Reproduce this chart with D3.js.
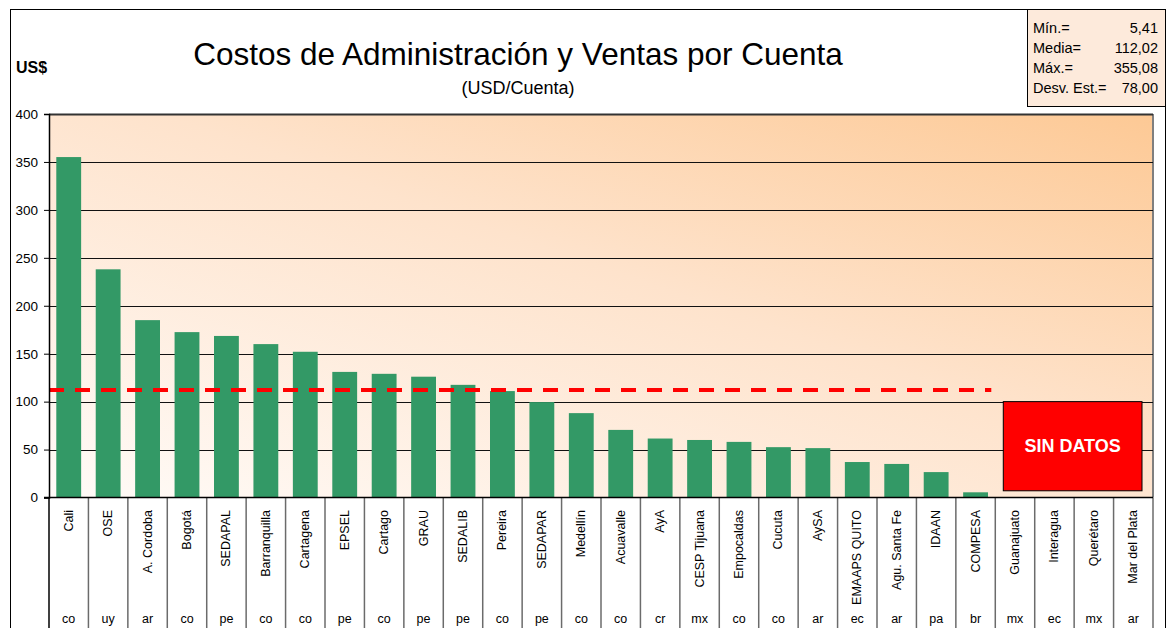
<!DOCTYPE html>
<html>
<head>
<meta charset="utf-8">
<script src="https://cdn.jsdelivr.net/npm/d3@7"></script>
<style>
  body { margin: 0; background: #fff; }
  text { font-family: "Liberation Sans", Arial, sans-serif; }
</style>
</head>
<body>
<script>
var companies = ["Cali","OSE","A. Cordoba","Bogotá","SEDAPAL","Barranquilla","Cartagena","EPSEL","Cartago","GRAU",
                 "SEDALIB","Pereira","SEDAPAR","Medellín","Acuavalle","AyA","CESP Tijuana","Empocaldas","Cucuta","AySA",
                 "EMAAPS QUITO","Agu.  Santa Fe","IDAAN","COMPESA","Guanajuato","Interagua","Querétaro","Mar del Plata"];
var countries = ["co","uy","ar","co","pe","co","co","pe","co","pe",
                 "pe","co","pe","co","co","cr","mx","co","co","ar",
                 "ec","ar","pa","br","mx","ec","mx","ar"];
var costs = [355.08,238,185,172.5,168.5,160,152,131,129,126,
             117.5,111,99.5,88,70.5,61.5,60,58,52.5,51.5,
             37,35,26.5,5.41,null,null,null,null];
var yTicks = [0,50,100,150,200,250,300,350,400];
var mean = 112.02;
var statLabels = ["Mín.=","Media=","Máx.=","Desv. Est.="];
var statValues = ["5,41","112,02","355,08","78,00"];
var noDataFrom = "Guanajuato", noDataTo = "Mar del Plata", noDataTop = 100, noDataBottom = 7;

var W = 1170, H = 628;
var plot = {left: 49, right: 1153, top: 114, bottom: 497.5};

var svg = d3.select("body").append("svg")
            .attr("width", W).attr("height", H);

// outer frame
svg.append("rect")
   .attr("x", 10.5).attr("y", 9.5)
   .attr("width", 1155).attr("height", 640)
   .attr("fill", "#fff").attr("stroke", "#000");

var grad = svg.append("defs").append("linearGradient")
              .attr("id", "bg").attr("x1", 0).attr("y1", 1).attr("x2", 1).attr("y2", 0);
grad.append("stop").attr("offset", "0%").attr("stop-color", "#fffbf8");
grad.append("stop").attr("offset", "55%").attr("stop-color", "#fee3cc");
grad.append("stop").attr("offset", "100%").attr("stop-color", "#fdc995");

var x = d3.scaleBand()
          .domain(companies)
          .range([plot.left, plot.right])
          .paddingInner(0.37).paddingOuter(0.185);
var xCell = d3.scaleBand().domain(companies).range([plot.left, plot.right]);

var y = d3.scaleLinear().domain([0, 400]).range([plot.bottom, plot.top]);

svg.append("rect")
   .attr("x", plot.left).attr("y", plot.top)
   .attr("width", plot.right - plot.left).attr("height", plot.bottom - plot.top)
   .attr("fill", "url(#bg)");

svg.append("line")
   .attr("x1", plot.right).attr("x2", plot.right)
   .attr("y1", plot.top).attr("y2", plot.bottom)
   .attr("stroke", "#7f7f7f").attr("stroke-width", 2);

// gridlines
svg.append("g").selectAll("line")
   .data(yTicks.slice(1))
   .enter().append("line")
   .attr("x1", plot.left).attr("x2", plot.right)
   .attr("y1", function(d){ return Math.round(y(d)) + 0.5; })
   .attr("y2", function(d){ return Math.round(y(d)) + 0.5; })
   .attr("stroke", function(d){ return d == 400 ? "#333" : "#111"; })
   .attr("stroke-width", function(d){ return d == 400 ? 2 : 1.2; });

// bars
svg.append("g").selectAll("rect")
   .data(companies.filter(function(d, i){ return costs[i] != null; }))
   .enter().append("rect")
   .attr("x", function(d){ return x(d); })
   .attr("width", x.bandwidth())
   .attr("y", function(d){ return y(costs[companies.indexOf(d)]); })
   .attr("height", function(d){ return plot.bottom - y(costs[companies.indexOf(d)]); })
   .attr("fill", "#339966");

// mean line
svg.append("line")
   .attr("x1", plot.left).attr("x2", xCell(noDataFrom) - 4)
   .attr("y1", y(mean)).attr("y2", y(mean))
   .attr("stroke", "#ff0000").attr("stroke-width", 4)
   .attr("stroke-dasharray", "15,11");

// sin datos box
svg.append("rect")
   .attr("x", xCell(noDataFrom) + 8)
   .attr("y", y(noDataTop))
   .attr("width", xCell(noDataTo) + xCell.bandwidth() - 11 - xCell(noDataFrom) - 8)
   .attr("height", y(noDataBottom) - y(noDataTop))
   .attr("fill", "#ff0000").attr("stroke", "#000").attr("stroke-width", 1);
svg.append("text")
   .attr("x", (xCell(noDataFrom) + 8 + xCell(noDataTo) + xCell.bandwidth() - 11) / 2)
   .attr("y", (y(noDataTop) + y(noDataBottom)) / 2 + 6)
   .attr("text-anchor", "middle")
   .attr("fill", "#fff").attr("font-weight", "bold").attr("font-size", 18)
   .text("SIN DATOS");

// y axis
var yAxis = d3.axisLeft(y).tickValues(yTicks).tickSize(5).tickPadding(6);
var gy = svg.append("g")
            .attr("transform", "translate(" + plot.left + ",0)")
            .call(yAxis);
gy.select(".domain").attr("stroke", "#000").attr("stroke-width", 1.5);
gy.selectAll("text").attr("font-size", 13.5).attr("fill", "#000")
  .style("font-family", "'Liberation Sans', Arial, sans-serif");

// category cells under the plot
svg.append("g").selectAll("line")
   .data(companies.concat(["end"]))
   .enter().append("line")
   .attr("x1", function(d, i){ return i < companies.length ? xCell(d) : plot.right; })
   .attr("x2", function(d, i){ return i < companies.length ? xCell(d) : plot.right; })
   .attr("y1", plot.bottom).attr("y2", H)
   .attr("stroke", function(d, i){ return i == 0 ? "#000" : "#6b6b6b"; })
   .attr("stroke-width", 1.5);

svg.append("line")
   .attr("x1", plot.left - 5).attr("x2", plot.right)
   .attr("y1", plot.bottom).attr("y2", plot.bottom)
   .attr("stroke", "#000").attr("stroke-width", 1.5);

svg.append("g").selectAll("text")
   .data(companies)
   .enter().append("text")
   .attr("transform", function(d){
       return "translate(" + (xCell(d) + xCell.bandwidth() / 2 + 4) + ",510) rotate(-90)";
   })
   .attr("text-anchor", "end")
   .attr("font-size", 12.5)
   .style("font-family", "'Liberation Sans Narrow', 'Arial Narrow', 'Liberation Sans', sans-serif")
   .attr("fill", "#000")
   .text(function(d){ return d; });

svg.append("g").selectAll("text")
   .data(countries)
   .enter().append("text")
   .attr("x", function(d, i){ return xCell(companies[i]) + xCell.bandwidth() / 2; })
   .attr("y", 623)
   .attr("text-anchor", "middle")
   .attr("font-size", 12.5)
   .style("font-family", "'Liberation Sans Narrow', 'Arial Narrow', 'Liberation Sans', sans-serif")
   .attr("fill", "#000")
   .text(function(d){ return d; });

// titles
svg.append("text")
   .attr("x", 518).attr("y", 65)
   .attr("text-anchor", "middle").attr("font-size", 31.5)
   .text("Costos de Administración y Ventas por Cuenta");
svg.append("text")
   .attr("x", 518).attr("y", 94)
   .attr("text-anchor", "middle").attr("font-size", 18)
   .text("(USD/Cuenta)");
svg.append("text")
   .attr("x", 16).attr("y", 73)
   .attr("font-size", 16).attr("font-weight", "bold")
   .text("US$");

// stats box
svg.append("rect")
   .attr("x", 1027.5).attr("y", 9.5)
   .attr("width", 138).attr("height", 97)
   .attr("fill", "#fdeadb").attr("stroke", "#000");
var stats = svg.append("g");
stats.selectAll("text.lab")
     .data(statLabels)
     .enter().append("text")
     .attr("class", "lab")
     .attr("x", 1033).attr("y", function(d, i){ return 33 + i * 20; })
     .attr("font-size", 14.5)
     .text(function(d){ return d; });
stats.selectAll("text.val")
     .data(statValues)
     .enter().append("text")
     .attr("class", "val")
     .attr("x", 1158).attr("y", function(d, i){ return 33 + i * 20; })
     .attr("text-anchor", "end")
     .attr("font-size", 14.5)
     .text(function(d){ return d; });
</script>
</body>
</html>
